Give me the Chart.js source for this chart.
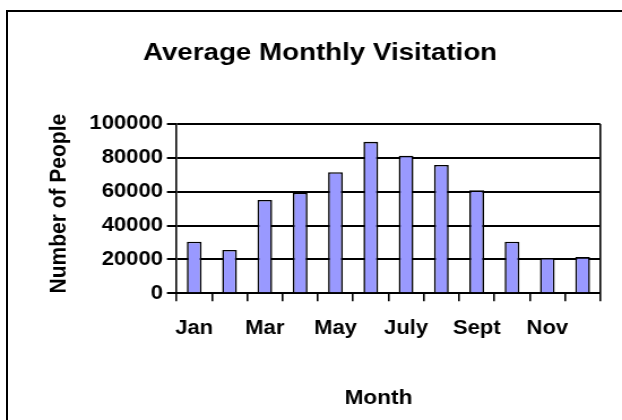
<!DOCTYPE html>
<html>
<head>
<meta charset="utf-8">
<script src="https://cdn.jsdelivr.net/npm/chart.js@4"></script>
<style>
  html, body { margin: 0; padding: 0; background: #fff; overflow: hidden; width: 622px; height: 420px; }
  #frame { position: absolute; left: 6px; top: 10px; width: 700px; height: 500px; border-left: 2px solid #000; border-top: 2px solid #000; }
  #c { position: absolute; left: 0; top: 0; width: 622px; height: 420px; }
</style>
</head>
<body>
<div id="frame"></div>
<canvas id="c" width="550" height="420" style="width:622px;height:420px"></canvas>
<script>
const chartTitle = 'Average Monthly Visitation';
const xAxisTitle = 'Month';
const yAxisTitle = 'Number of People';
const months = ['Jan', 'Feb', 'Mar', 'Apr', 'May', 'June', 'July', 'Aug', 'Sept', 'Oct', 'Nov', 'Dec'];
const visitors = [30500, 25600, 55100, 59400, 71500, 89500, 81300, 75800, 60800, 30500, 20900, 21400];
const yTickLabels = ['0', '20000', '40000', '60000', '80000', '100000'];

Chart.defaults.font.family = "'Liberation Sans', Arial, sans-serif";
Chart.defaults.color = '#000';

// Axis titles drawn relative to the chart area (slightly off-centre, as in the source chart)
const axisTitles = {
  id: 'axisTitles',
  afterDraw(chart) {
    const { ctx, chartArea } = chart;
    ctx.save();
    ctx.fillStyle = '#000';
    ctx.textAlign = 'center';
    ctx.textBaseline = 'middle';
    ctx.font = "bold 20px 'Liberation Sans', Arial, sans-serif";
    ctx.fillText(xAxisTitle, (chartArea.left + chartArea.right) / 2 - 8.8, chartArea.bottom + 104.7);
    ctx.font = "bold 21px 'Liberation Sans', Arial, sans-serif";
    ctx.translate(chartArea.left - 103.5, (chartArea.top + chartArea.bottom) / 2 - 5);
    ctx.rotate(-Math.PI / 2);
    ctx.fillText(yAxisTitle, 0, 0);
    ctx.restore();
  }
};

new Chart(document.getElementById('c'), {
  type: 'bar',
  data: {
    labels: months,
    datasets: [{
      data: visitors,
      backgroundColor: '#9999FF',
      borderColor: '#000',
      borderWidth: 1.6,
      barPercentage: 0.417,
      categoryPercentage: 1
    }]
  },
  plugins: [axisTitles],
  options: {
    responsive: false,
    animation: false,
    devicePixelRatio: 1,
    layout: { padding: { left: 35.2, right: 19.2, top: 0, bottom: 0 } },
    plugins: {
      legend: { display: false },
      tooltip: { enabled: false },
      title: {
        display: true,
        text: chartTitle,
        color: '#000',
        font: { size: 24.5, weight: 'bold' },
        padding: { top: 38.3, bottom: 56.3 }
      }
    },
    scales: {
      x: {
        offset: true,
        grid: {
          offset: true,
          drawOnChartArea: true,
          color: (c) => (c.type === 'scale' ? '#000' : 'rgba(0,0,0,0)'),
          tickColor: '#000',
          lineWidth: 1.6,
          tickLength: 8
        },
        border: { display: true, color: '#000', width: 2 },
        ticks: {
          autoSkip: false,
          maxRotation: 0,
          padding: 16,
          font: { size: 19.5, weight: 'bold' },
          callback: (v, i) => (i % 2 === 0 ? months[i] : '')
        },
        title: { display: false, text: xAxisTitle },
        afterFit: (s) => { s.height = 126.7; }
      },
      y: {
        min: 0,
        max: 100000,
        ticks: {
          stepSize: 20000,
          padding: 3.5,
          font: { size: 19.5, weight: 'bold' },
          callback: (v, i) => yTickLabels[i]
        },
        grid: { color: '#000', lineWidth: 2, tickLength: 8.5, tickColor: '#000' },
        border: { display: true, color: '#000', width: 1.6 },
        title: { display: false, text: yAxisTitle },
        afterFit: (s) => { s.width = 120.9; }
      }
    }
  }
});
</script>
</body>
</html>
